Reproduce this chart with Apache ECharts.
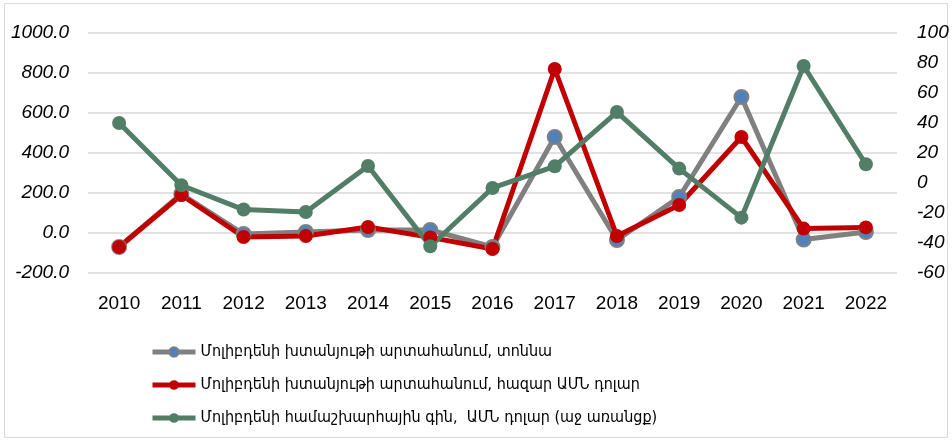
<!DOCTYPE html>
<html>
<head>
<meta charset="utf-8">
<script src="https://cdn.jsdelivr.net/npm/echarts@6/dist/echarts.min.js"></script>
<style>
  html, body { margin: 0; padding: 0; background: #fff; }
  #chart { width: 952px; height: 442px; }
</style>
</head>
<body>
<div id="chart"></div>
<script>
const years = ['2010', '2011', '2012', '2013', '2014', '2015', '2016', '2017', '2018', '2019', '2020', '2021', '2022']
const exportTonnes = [-70, 195, -5, 5, 15, 15, -70, 480, -35, 180, 680, -33, 5]
const exportUsd = [-70, 190, -20, -15, 30, -22, -80, 820, -15, 140, 480, 22, 28]
const worldPrice = [40, -1.5, -17.7, -19.3, 11.3, -42.2, -3.3, 11.1, 47.3, 9.6, -23.1, 78, 12.5]
const names = [
  'Մոլիբդենի խտանյութի արտահանում, տոննա',
  'Մոլիբդենի խտանյութի արտահանում, հազար ԱՄՆ դոլար',
  'Մոլիբդենի համաշխարհային գին,  ԱՄՆ դոլար (աջ առանցք)'
]

const numFont = "'Liberation Sans', Arial, sans-serif"
const textFont = "'DejaVu Sans Condensed', 'DejaVu Sans', sans-serif"
const chart = echarts.init(document.getElementById('chart'))

chart.setOption({
  animation: false,
  textStyle: { fontFamily: numFont },
  graphic: [{
    type: 'rect',
    shape: { x: 4.5, y: 3.5, width: 943, height: 434 },
    style: { fill: 'none', stroke: '#d9d9d9', lineWidth: 1 }
  }],
  grid: { left: 88, right: 55, top: 33, bottom: 169 },
  legend: {
    orient: 'vertical',
    left: 150,
    top: 344,
    padding: 0,
    itemWidth: 43,
    itemHeight: 12,
    itemGap: 17,
    lineStyle: { width: 5 },
    textStyle: { fontSize: 16, color: '#000', fontFamily: textFont },
    data: names
  },
  xAxis: {
    type: 'category',
    data: years,
    axisLine: { show: false },
    axisTick: { show: false },
    axisLabel: { fontSize: 19, color: '#000', margin: 21 }
  },
  yAxis: [{
    type: 'value',
    min: -200,
    max: 1000,
    interval: 200,
    axisLabel: {
      fontSize: 19, color: '#000', fontStyle: 'italic', margin: 19,
      formatter: v => v.toFixed(1)
    },
    splitLine: { lineStyle: { color: '#d9d9d9', width: 1.5 } }
  }, {
    type: 'value',
    min: -60,
    max: 100,
    interval: 20,
    axisLabel: { fontSize: 19, color: '#000', fontStyle: 'italic', margin: 20 },
    splitLine: { show: false }
  }],
  series: [{
    name: names[0],
    type: 'line',
    data: exportTonnes,
    symbol: 'circle',
    symbolSize: 14,
    lineStyle: { color: '#808080', width: 5 },
    itemStyle: { color: '#4f81bd', borderColor: '#808080', borderWidth: 2 }
  }, {
    name: names[1],
    type: 'line',
    data: exportUsd,
    symbol: 'circle',
    symbolSize: 14,
    lineStyle: { color: '#c00000', width: 5 },
    itemStyle: { color: '#c00000' }
  }, {
    name: names[2],
    type: 'line',
    yAxisIndex: 1,
    data: worldPrice,
    symbol: 'circle',
    symbolSize: 14,
    lineStyle: { color: '#527d66', width: 5 },
    itemStyle: { color: '#527d66' }
  }]
})
</script>
</body>
</html>
